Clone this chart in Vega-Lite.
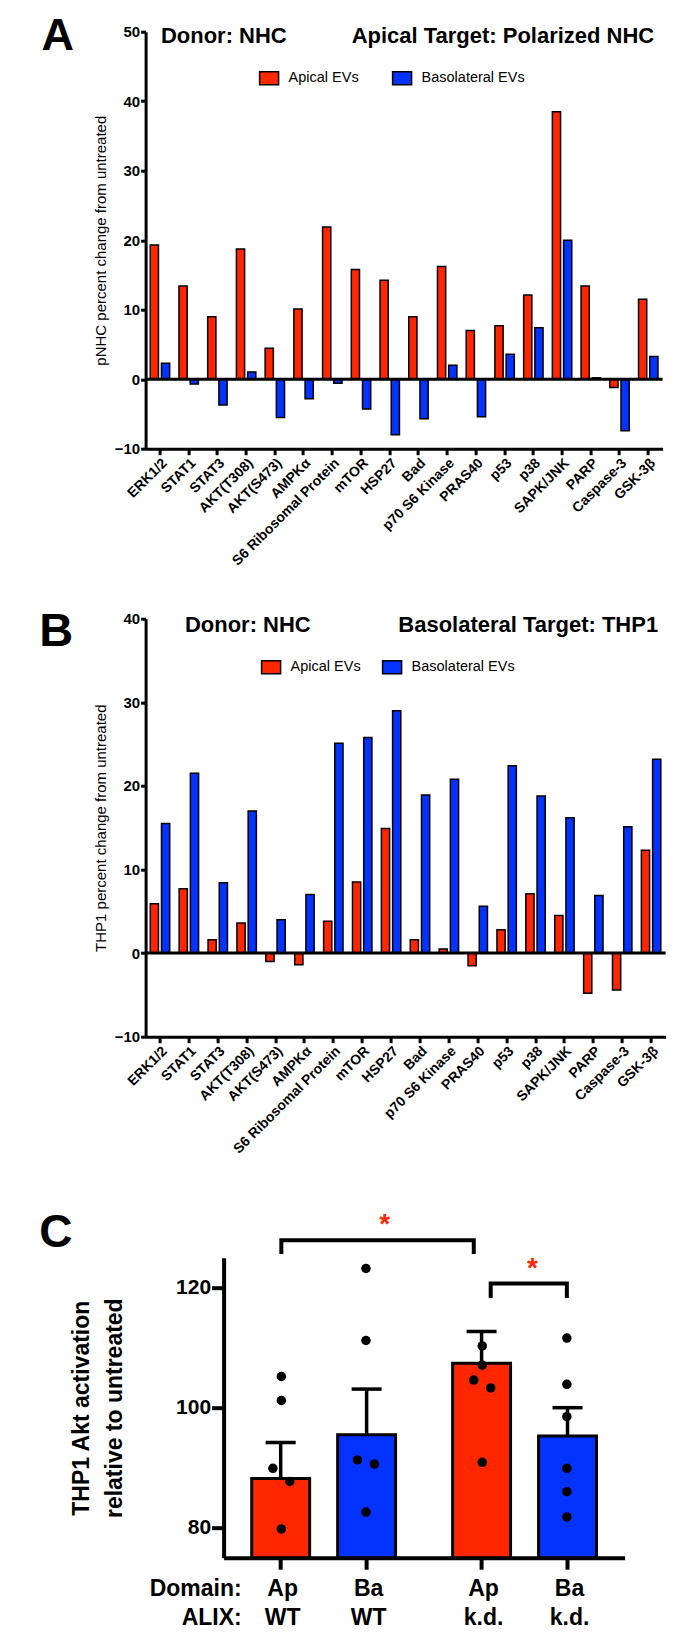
{
  "$schema": "https://vega.github.io/schema/vega-lite/v6.json",
  "background": "white",
  "padding": {"left": 38.6, "top": 13.7, "right": 0, "bottom": 0},
  "config": {
    "view": {"stroke": null},
    "font": "Liberation Sans",
    "axis": {"labelColor": "black", "titleColor": "black", "domainColor": "black", "tickColor": "black", "grid": false, "labelFont": "Liberation Sans", "titleFont": "Liberation Sans"}
  },
  "datasets": {
    "pa": [
      {"protein": "ERK1/2", "series": "Apical EVs", "value": 19.3},
      {"protein": "ERK1/2", "series": "Basolateral EVs", "value": 2.3},
      {"protein": "STAT1", "series": "Apical EVs", "value": 13.4},
      {"protein": "STAT1", "series": "Basolateral EVs", "value": -0.7},
      {"protein": "STAT3", "series": "Apical EVs", "value": 9.0},
      {"protein": "STAT3", "series": "Basolateral EVs", "value": -3.7},
      {"protein": "AKT(T308)", "series": "Apical EVs", "value": 18.75},
      {"protein": "AKT(T308)", "series": "Basolateral EVs", "value": 1.05},
      {"protein": "AKT(S473)", "series": "Apical EVs", "value": 4.45},
      {"protein": "AKT(S473)", "series": "Basolateral EVs", "value": -5.5},
      {"protein": "AMPKα", "series": "Apical EVs", "value": 10.1},
      {"protein": "AMPKα", "series": "Basolateral EVs", "value": -2.8},
      {"protein": "S6 Ribosomal Protein", "series": "Apical EVs", "value": 21.9},
      {"protein": "S6 Ribosomal Protein", "series": "Basolateral EVs", "value": -0.6},
      {"protein": "mTOR", "series": "Apical EVs", "value": 15.8},
      {"protein": "mTOR", "series": "Basolateral EVs", "value": -4.3},
      {"protein": "HSP27", "series": "Apical EVs", "value": 14.25},
      {"protein": "HSP27", "series": "Basolateral EVs", "value": -8.0},
      {"protein": "Bad", "series": "Apical EVs", "value": 9.0},
      {"protein": "Bad", "series": "Basolateral EVs", "value": -5.7},
      {"protein": "p70 S6 Kinase", "series": "Apical EVs", "value": 16.2},
      {"protein": "p70 S6 Kinase", "series": "Basolateral EVs", "value": 2.0},
      {"protein": "PRAS40", "series": "Apical EVs", "value": 7.0},
      {"protein": "PRAS40", "series": "Basolateral EVs", "value": -5.4},
      {"protein": "p53", "series": "Apical EVs", "value": 7.7},
      {"protein": "p53", "series": "Basolateral EVs", "value": 3.6},
      {"protein": "p38", "series": "Apical EVs", "value": 12.1},
      {"protein": "p38", "series": "Basolateral EVs", "value": 7.4},
      {"protein": "SAPK/JNK", "series": "Apical EVs", "value": 38.5},
      {"protein": "SAPK/JNK", "series": "Basolateral EVs", "value": 20.0},
      {"protein": "PARP", "series": "Apical EVs", "value": 13.4},
      {"protein": "PARP", "series": "Basolateral EVs", "value": 0.2},
      {"protein": "Caspase-3", "series": "Apical EVs", "value": -1.2},
      {"protein": "Caspase-3", "series": "Basolateral EVs", "value": -7.4},
      {"protein": "GSK-3β", "series": "Apical EVs", "value": 11.5},
      {"protein": "GSK-3β", "series": "Basolateral EVs", "value": 3.25}
    ],
    "pb": [
      {"protein": "ERK1/2", "series": "Apical EVs", "value": 5.9},
      {"protein": "ERK1/2", "series": "Basolateral EVs", "value": 15.5},
      {"protein": "STAT1", "series": "Apical EVs", "value": 7.7},
      {"protein": "STAT1", "series": "Basolateral EVs", "value": 21.5},
      {"protein": "STAT3", "series": "Apical EVs", "value": 1.6},
      {"protein": "STAT3", "series": "Basolateral EVs", "value": 8.4},
      {"protein": "AKT(T308)", "series": "Apical EVs", "value": 3.6},
      {"protein": "AKT(T308)", "series": "Basolateral EVs", "value": 17.0},
      {"protein": "AKT(S473)", "series": "Apical EVs", "value": -1.0},
      {"protein": "AKT(S473)", "series": "Basolateral EVs", "value": 4.0},
      {"protein": "AMPKα", "series": "Apical EVs", "value": -1.4},
      {"protein": "AMPKα", "series": "Basolateral EVs", "value": 7.0},
      {"protein": "S6 Ribosomal Protein", "series": "Apical EVs", "value": 3.8},
      {"protein": "S6 Ribosomal Protein", "series": "Basolateral EVs", "value": 25.1},
      {"protein": "mTOR", "series": "Apical EVs", "value": 8.5},
      {"protein": "mTOR", "series": "Basolateral EVs", "value": 25.8},
      {"protein": "HSP27", "series": "Apical EVs", "value": 14.9},
      {"protein": "HSP27", "series": "Basolateral EVs", "value": 29.0},
      {"protein": "Bad", "series": "Apical EVs", "value": 1.6},
      {"protein": "Bad", "series": "Basolateral EVs", "value": 18.9},
      {"protein": "p70 S6 Kinase", "series": "Apical EVs", "value": 0.5},
      {"protein": "p70 S6 Kinase", "series": "Basolateral EVs", "value": 20.8},
      {"protein": "PRAS40", "series": "Apical EVs", "value": -1.5},
      {"protein": "PRAS40", "series": "Basolateral EVs", "value": 5.6},
      {"protein": "p53", "series": "Apical EVs", "value": 2.8},
      {"protein": "p53", "series": "Basolateral EVs", "value": 22.4},
      {"protein": "p38", "series": "Apical EVs", "value": 7.1},
      {"protein": "p38", "series": "Basolateral EVs", "value": 18.8},
      {"protein": "SAPK/JNK", "series": "Apical EVs", "value": 4.5},
      {"protein": "SAPK/JNK", "series": "Basolateral EVs", "value": 16.2},
      {"protein": "PARP", "series": "Apical EVs", "value": -4.8},
      {"protein": "PARP", "series": "Basolateral EVs", "value": 6.9},
      {"protein": "Caspase-3", "series": "Apical EVs", "value": -4.4},
      {"protein": "Caspase-3", "series": "Basolateral EVs", "value": 15.1},
      {"protein": "GSK-3β", "series": "Apical EVs", "value": 12.3},
      {"protein": "GSK-3β", "series": "Basolateral EVs", "value": 23.2}
    ],
    "cbars": [
      {"Domain": "Ap", "ALIX": "WT", "mean": 88.2, "upper": 94.2},
      {"Domain": "Ba", "ALIX": "WT", "mean": 95.5, "upper": 103.1},
      {"Domain": "Ap", "ALIX": "k.d.", "mean": 107.4, "upper": 112.7},
      {"Domain": "Ba", "ALIX": "k.d.", "mean": 95.3, "upper": 100.0}
    ],
    "cdots": [
      {"ALIX": "WT", "slot": "Ap-C", "value": 105.2},
      {"ALIX": "WT", "slot": "Ap-C", "value": 101.2},
      {"ALIX": "WT", "slot": "Ap-L", "value": 89.9},
      {"ALIX": "WT", "slot": "Ap-R", "value": 87.7},
      {"ALIX": "WT", "slot": "Ap-C", "value": 79.8},
      {"ALIX": "WT", "slot": "Ba-C", "value": 123.2},
      {"ALIX": "WT", "slot": "Ba-C", "value": 111.2},
      {"ALIX": "WT", "slot": "Ba-L", "value": 91.3},
      {"ALIX": "WT", "slot": "Ba-R", "value": 90.6},
      {"ALIX": "WT", "slot": "Ba-C", "value": 82.6},
      {"ALIX": "k.d.", "slot": "Ap-C", "value": 110.3},
      {"ALIX": "k.d.", "slot": "Ap-C", "value": 107.1},
      {"ALIX": "k.d.", "slot": "Ap-L", "value": 104.6},
      {"ALIX": "k.d.", "slot": "Ap-R", "value": 103.3},
      {"ALIX": "k.d.", "slot": "Ap-C", "value": 90.9},
      {"ALIX": "k.d.", "slot": "Ba-C", "value": 111.6},
      {"ALIX": "k.d.", "slot": "Ba-C", "value": 103.9},
      {"ALIX": "k.d.", "slot": "Ba-C", "value": 98.5},
      {"ALIX": "k.d.", "slot": "Ba-C", "value": 89.9},
      {"ALIX": "k.d.", "slot": "Ba-C", "value": 86.0},
      {"ALIX": "k.d.", "slot": "Ba-C", "value": 81.8}
    ],
    "brackets": [
      {"bracket": "WT Ap vs k.d. Ap", "ord": 1, "ALIX": "WT", "slot": "Ap-C", "value": 125.6},
      {"bracket": "WT Ap vs k.d. Ap", "ord": 2, "ALIX": "WT", "slot": "Ap-C", "value": 127.9},
      {"bracket": "WT Ap vs k.d. Ap", "ord": 3, "ALIX": "k.d.", "slot": "Ap-L", "value": 127.9},
      {"bracket": "WT Ap vs k.d. Ap", "ord": 4, "ALIX": "k.d.", "slot": "Ap-L", "value": 125.6},
      {"bracket": "k.d. Ap vs k.d. Ba", "ord": 1, "ALIX": "k.d.", "slot": "Ap-R", "value": 118.3},
      {"bracket": "k.d. Ap vs k.d. Ba", "ord": 2, "ALIX": "k.d.", "slot": "Ap-R", "value": 120.7},
      {"bracket": "k.d. Ap vs k.d. Ba", "ord": 3, "ALIX": "k.d.", "slot": "Ba-C", "value": 120.7},
      {"bracket": "k.d. Ap vs k.d. Ba", "ord": 4, "ALIX": "k.d.", "slot": "Ba-C", "value": 118.3}
    ]
  },
  "spacing": 39,
  "resolve": {"scale": {"color": "independent"}, "legend": {"color": "independent"}},
  "vconcat": [
    {
      "width": 517,
      "height": 417,
      "layer": [
        {
          "data": {"name": "pa"},
          "mark": {"type": "bar", "stroke": "black", "strokeWidth": 1.5},
          "encoding": {
            "x": {
              "field": "protein", "type": "nominal",
              "scale": {"domain": ["ERK1/2", "STAT1", "STAT3", "AKT(T308)", "AKT(S473)", "AMPKα", "S6 Ribosomal Protein", "mTOR", "HSP27", "Bad", "p70 S6 Kinase", "PRAS40", "p53", "p38", "SAPK/JNK", "PARP", "Caspase-3", "GSK-3β"], "paddingInner": 0.324, "paddingOuter": 0.162},
              "axis": {"title": null, "labelAngle": -45, "labelAlign": "right", "labelBaseline": "top", "labelFontSize": 14, "labelFontWeight": "bold", "domainWidth": 3, "tickWidth": 3, "tickSize": 6, "labelPadding": 1, "labelOverlap": false}
            },
            "xOffset": {"field": "series", "type": "nominal", "scale": {"domain": ["Apical EVs", "Basolateral EVs"], "paddingInner": 0.268}},
            "y": {
              "field": "value", "type": "quantitative",
              "scale": {"domain": [-10, 50]},
              "axis": {"title": "pNHC percent change from untreated", "titleFontSize": 15, "titleFontWeight": "normal", "titlePadding": 6, "values": [-10, 0, 10, 20, 30, 40, 50], "labelFontSize": 15, "labelFontWeight": "bold", "labelPadding": 1, "labelFlush": false, "domainWidth": 3, "tickWidth": 3, "tickSize": 5}
            },
            "color": {
              "field": "series", "type": "nominal",
              "scale": {"domain": ["Apical EVs", "Basolateral EVs"], "range": ["#FF2600", "#0433FF"]},
              "legend": {"orient": "none", "legendX": 113, "legendY": 36, "direction": "horizontal", "title": null, "symbolType": "M-1,-0.68H1V0.68H-1Z", "symbolSize": 361, "symbolStrokeColor": "black", "symbolStrokeWidth": 1.5, "symbolOpacity": 1, "labelFontSize": 14.5, "labelColor": "black", "labelOffset": 9, "columnPadding": 30, "padding": 0}
            }
          }
        },
        {"data": {"values": [{}]}, "mark": {"type": "rule", "strokeWidth": 3, "color": "black"}, "encoding": {"y": {"datum": 0}}},
        {"data": {"values": [{}]}, "mark": {"type": "text", "align": "left", "baseline": "middle", "dx": 1, "dy": 4, "fontSize": 22, "fontWeight": "bold", "color": "black"}, "encoding": {"x": {"datum": "ERK1/2"}, "y": {"datum": 50}, "text": {"value": "Donor: NHC"}}},
        {"data": {"values": [{}]}, "mark": {"type": "text", "align": "right", "baseline": "middle", "dx": 6, "dy": 4, "fontSize": 22, "fontWeight": "bold", "color": "black"}, "encoding": {"x": {"datum": "GSK-3β"}, "y": {"datum": 50}, "text": {"value": "Apical Target: Polarized NHC"}}},
        {"data": {"values": [{}]}, "mark": {"type": "text", "align": "left", "baseline": "alphabetic", "dx": -118.4, "dy": 18, "fontSize": 45, "fontWeight": "bold", "color": "black"}, "encoding": {"x": {"datum": "ERK1/2"}, "y": {"datum": 50}, "text": {"value": "A"}}}
      ]
    },
    {
      "spacing": 53,
      "resolve": {"scale": {"color": "independent"}, "legend": {"color": "independent"}},
      "vconcat": [
        {
          "width": 520,
          "height": 418,
          "layer": [
            {
              "data": {"name": "pb"},
              "mark": {"type": "bar", "stroke": "black", "strokeWidth": 1.5},
              "encoding": {
                "x": {
                  "field": "protein", "type": "nominal",
                  "scale": {"domain": ["ERK1/2", "STAT1", "STAT3", "AKT(T308)", "AKT(S473)", "AMPKα", "S6 Ribosomal Protein", "mTOR", "HSP27", "Bad", "p70 S6 Kinase", "PRAS40", "p53", "p38", "SAPK/JNK", "PARP", "Caspase-3", "GSK-3β"], "paddingInner": 0.324, "paddingOuter": 0.162},
                  "axis": {"title": null, "labelAngle": -45, "labelAlign": "right", "labelBaseline": "top", "labelFontSize": 14, "labelFontWeight": "bold", "domainWidth": 3, "tickWidth": 3, "tickSize": 6, "labelPadding": 1, "labelOverlap": false}
                },
                "xOffset": {"field": "series", "type": "nominal", "scale": {"domain": ["Apical EVs", "Basolateral EVs"], "paddingInner": 0.268}},
                "y": {
                  "field": "value", "type": "quantitative",
                  "scale": {"domain": [-10, 40]},
                  "axis": {"title": "THP1 percent change from untreated", "titleFontSize": 15, "titleFontWeight": "normal", "titlePadding": 6, "values": [-10, 0, 10, 20, 30, 40], "labelFontSize": 15, "labelFontWeight": "bold", "labelPadding": 1, "labelFlush": false, "domainWidth": 3, "tickWidth": 3, "tickSize": 5}
                },
                "color": {
                  "field": "series", "type": "nominal",
                  "scale": {"domain": ["Apical EVs", "Basolateral EVs"], "range": ["#FF2600", "#0433FF"]},
                  "legend": {"orient": "none", "legendX": 115, "legendY": 38, "direction": "horizontal", "title": null, "symbolType": "M-1,-0.68H1V0.68H-1Z", "symbolSize": 361, "symbolStrokeColor": "black", "symbolStrokeWidth": 1.5, "symbolOpacity": 1, "labelFontSize": 14.5, "labelColor": "black", "labelOffset": 9, "columnPadding": 18, "padding": 0}
                }
              }
            },
            {"data": {"values": [{}]}, "mark": {"type": "rule", "strokeWidth": 3, "color": "black"}, "encoding": {"y": {"datum": 0}}},
            {"data": {"values": [{}]}, "mark": {"type": "text", "align": "left", "baseline": "middle", "dx": -4, "dy": 6, "fontSize": 22, "fontWeight": "bold", "color": "black"}, "encoding": {"x": {"datum": "STAT1"}, "y": {"datum": 40}, "text": {"value": "Donor: NHC"}}},
            {"data": {"values": [{}]}, "mark": {"type": "text", "align": "right", "baseline": "middle", "dx": 7, "dy": 6, "fontSize": 22, "fontWeight": "bold", "color": "black"}, "encoding": {"x": {"datum": "GSK-3β"}, "y": {"datum": 40}, "text": {"value": "Basolateral Target: THP1"}}},
            {"data": {"values": [{}]}, "mark": {"type": "text", "align": "left", "baseline": "alphabetic", "dx": -120.8, "dy": 27, "fontSize": 47, "fontWeight": "bold", "color": "black"}, "encoding": {"x": {"datum": "ERK1/2"}, "y": {"datum": 40}, "text": {"value": "B"}}}
          ]
        },
        {
          "width": 479,
          "height": 300,
          "resolve": {"scale": {"xOffset": "independent"}},
          "layer": [
            {
              "data": {"name": "cbars"},
              "mark": {"type": "bar", "stroke": "black", "strokeWidth": 3},
              "encoding": {
                "x": {
                  "field": "ALIX", "type": "nominal",
                  "scale": {"domain": ["WT", "k.d."], "range": [78, 479], "paddingInner": 0.284, "paddingOuter": 0.14},
                  "axis": {"title": null, "labels": false, "ticks": false, "domainWidth": 4}
                },
                "xOffset": {"field": "Domain", "type": "nominal", "scale": {"type": "band", "domain": ["Ap", "Ba"], "paddingInner": 0.326, "paddingOuter": 0}},
                "y": {
                  "field": "mean", "type": "quantitative",
                  "scale": {"domain": [75, 125]},
                  "axis": {"offset": -78, "title": ["THP1 Akt activation", "relative to untreated"], "titleFontSize": 23, "titleFontWeight": "bold", "titleLineHeight": 33, "titlePadding": 49.5, "values": [80, 100, 120], "labelFontSize": 21, "labelFontWeight": "bold", "labelPadding": 1, "labelFlush": false, "tickSize": 12, "tickWidth": 4, "domainWidth": 4}
                },
                "y2": {"datum": 75},
                "color": {"field": "Domain", "type": "nominal", "scale": {"domain": ["Ap", "Ba"], "range": ["#FF2600", "#0433FF"]}, "legend": null}
              }
            },
            {
              "data": {"name": "cbars"},
              "mark": {"type": "rule", "strokeWidth": 3.5, "color": "black"},
              "encoding": {
                "x": {"field": "ALIX", "type": "nominal"},
                "xOffset": {"field": "Domain", "type": "nominal", "scale": {"type": "band", "domain": ["Ap", "Ba"], "paddingInner": 0.326, "paddingOuter": 0}},
                "y": {"field": "mean", "type": "quantitative"},
                "y2": {"field": "upper"}
              }
            },
            {
              "data": {"name": "cbars"},
              "mark": {"type": "tick", "orient": "horizontal", "size": 30, "thickness": 3.5, "color": "black", "opacity": 1},
              "encoding": {
                "x": {"field": "ALIX", "type": "nominal"},
                "xOffset": {"field": "Domain", "type": "nominal", "scale": {"type": "band", "domain": ["Ap", "Ba"], "paddingInner": 0.326, "paddingOuter": 0}},
                "y": {"field": "upper", "type": "quantitative"}
              }
            },
            {
              "data": {"name": "cbars"},
              "mark": {"type": "tick", "orient": "vertical", "size": 12, "thickness": 4, "yOffset": 6, "color": "black", "opacity": 1},
              "encoding": {
                "x": {"field": "ALIX", "type": "nominal"},
                "xOffset": {"field": "Domain", "type": "nominal", "scale": {"type": "band", "domain": ["Ap", "Ba"], "paddingInner": 0.326, "paddingOuter": 0}},
                "y": {"datum": 75}
              }
            },
            {
              "data": {"name": "cdots"},
              "mark": {"type": "circle", "size": 90, "color": "black", "opacity": 1},
              "encoding": {
                "x": {"field": "ALIX", "type": "nominal"},
                "xOffset": {"field": "slot", "type": "nominal", "scale": {"type": "band", "domain": ["f0", "f1", "Ap-L", "Ap-C", "Ap-R", "f5", "f6", "f7", "f8", "f9", "f10", "f11", "Ba-L", "Ba-C", "Ba-R", "f15", "f16"], "paddingInner": 0, "paddingOuter": 0}},
                "y": {"field": "value", "type": "quantitative"}
              }
            },
            {
              "data": {"name": "brackets"},
              "mark": {"type": "line", "strokeWidth": 4, "color": "black", "strokeJoin": "miter", "strokeCap": "butt"},
              "encoding": {
                "x": {"field": "ALIX", "type": "nominal"},
                "xOffset": {"field": "slot", "type": "nominal", "scale": {"type": "band", "domain": ["f0", "f1", "Ap-L", "Ap-C", "Ap-R", "f5", "f6", "f7", "f8", "f9", "f10", "f11", "Ba-L", "Ba-C", "Ba-R", "f15", "f16"], "paddingInner": 0, "paddingOuter": 0}},
                "y": {"field": "value", "type": "quantitative"},
                "detail": {"field": "bracket"},
                "order": {"field": "ord", "type": "quantitative"}
              }
            },
            {"data": {"values": [{}]}, "mark": {"type": "text", "align": "center", "baseline": "alphabetic", "dx": 61, "fontSize": 28, "fontWeight": "bold", "color": "#FF2600"}, "encoding": {"x": {"datum": "WT"}, "y": {"datum": 129.1}, "text": {"value": "*"}}},
            {"data": {"values": [{}]}, "mark": {"type": "text", "align": "center", "baseline": "alphabetic", "dx": 8, "fontSize": 28, "fontWeight": "bold", "color": "#FF2600"}, "encoding": {"x": {"datum": "k.d."}, "y": {"datum": 121.8}, "text": {"value": "*"}}},
            {
              "data": {"name": "cbars"},
              "mark": {"type": "text", "align": "center", "baseline": "middle", "dx": 2, "dy": 31, "fontSize": 23, "fontWeight": "bold", "color": "black"},
              "encoding": {
                "x": {"field": "ALIX", "type": "nominal"},
                "xOffset": {"field": "Domain", "type": "nominal", "scale": {"type": "band", "domain": ["Ap", "Ba"], "paddingInner": 0.326, "paddingOuter": 0}},
                "y": {"datum": 75},
                "text": {"field": "Domain"}
              }
            },
            {
              "data": {"name": "cbars"},
              "mark": {"type": "text", "align": "center", "baseline": "middle", "dx": 2, "dy": 60, "fontSize": 23, "fontWeight": "bold", "color": "black"},
              "encoding": {
                "x": {"field": "ALIX", "type": "nominal"},
                "xOffset": {"field": "Domain", "type": "nominal", "scale": {"type": "band", "domain": ["Ap", "Ba"], "paddingInner": 0.326, "paddingOuter": 0}},
                "y": {"datum": 75},
                "text": {"field": "ALIX"}
              }
            },
            {"data": {"values": [{}]}, "mark": {"type": "text", "align": "right", "baseline": "middle", "dx": -82, "dy": 31, "fontSize": 23, "fontWeight": "bold", "color": "black"}, "encoding": {"x": {"datum": "WT"}, "y": {"datum": 75}, "text": {"value": "Domain:"}}},
            {"data": {"values": [{}]}, "mark": {"type": "text", "align": "right", "baseline": "middle", "dx": -82, "dy": 60, "fontSize": 23, "fontWeight": "bold", "color": "black"}, "encoding": {"x": {"datum": "WT"}, "y": {"datum": 75}, "text": {"value": "ALIX:"}}},
            {"data": {"values": [{}]}, "mark": {"type": "text", "align": "left", "baseline": "alphabetic", "dx": -284.4, "dy": -11, "fontSize": 46, "fontWeight": "bold", "color": "black"}, "encoding": {"x": {"datum": "WT"}, "y": {"datum": 125}, "text": {"value": "C"}}}
          ]
        }
      ]
    }
  ]
}
